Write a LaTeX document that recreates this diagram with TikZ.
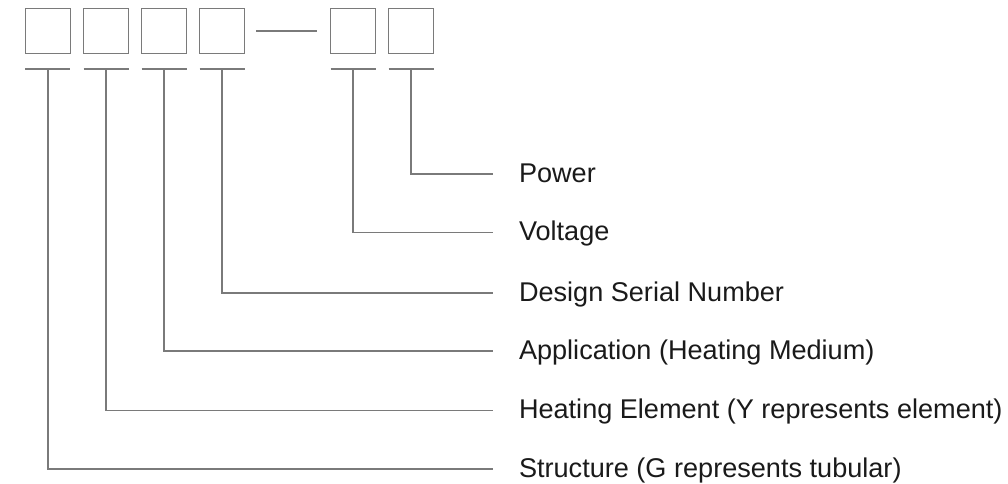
\documentclass[tikz,border=0pt]{standalone}
\usepackage{fontspec}
\setmainfont{Liberation Sans}
\definecolor{linegray}{HTML}{7A7A7A}
\definecolor{inkblack}{HTML}{1A1A1A}
\begin{document}
\begin{tikzpicture}[
            x=1pt,
            y=-1pt,
            digit/.style={draw=linegray,line width=1.2pt,minimum size=44.5pt,inner sep=0pt},
            wire/.style={draw=linegray,line width=1.2pt},
            tag/.style={font=\fontsize{27.1}{32}\selectfont,text=inkblack,inner sep=0pt,anchor=base west}
        ]
            \useasboundingbox (0,0) rectangle (1008,483);

            \foreach \i/\x/\y/\txt in {1/47.9/469/{Structure (G represents tubular)},
                                       2/106/410.5/{Heating Element (Y represents element)},
                                       3/164/351/{Application (Heating Medium)},
                                       4/222/293/{Design Serial Number},
                                       5/353/232.5/{Voltage},
                                       6/411/174/{Power}} {
                \node[digit] (b\i) at (\x,31) {};
                \coordinate (t\i) at (\x,69);
                \coordinate (e\i) at (493.3,\y);
                \node[tag] (l\i) at (518.8,\y+8) {\txt};
            }

            \draw[wire,shorten <=11.5pt,shorten >=13.5pt] (b4.east) -- (b5.west);

            \foreach \i in {1,...,6} {
                \draw[wire] ([xshift=-22.5pt]t\i) -- ([xshift=22.5pt]t\i);
                \draw[wire] (t\i) |- (e\i);
            }
        \end{tikzpicture}
\end{document}
